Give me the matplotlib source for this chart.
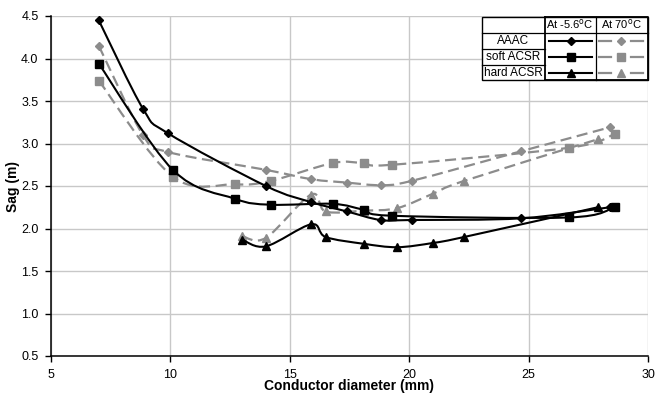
import numpy as np
import matplotlib
matplotlib.use("Agg")
from matplotlib import pyplot as plt
from matplotlib.path import Path
from matplotlib.patches import PathPatch, Rectangle
from matplotlib.lines import Line2D

plt.rcParams['font.family'] = ['Liberation Sans', 'DejaVu Sans']

# data
aaac_x = [7.0, 8.85, 9.9, 14.0, 15.9, 17.4, 18.8, 20.1, 24.7, 28.4]
aaac_cold = [4.45, 3.41, 3.12, 2.50, 2.31, 2.20, 2.10, 2.10, 2.12, 2.25]
aaac_hot = [4.15, 3.10, 2.90, 2.69, 2.58, 2.54, 2.51, 2.56, 2.91, 3.19]

soft_x = [7.0, 10.1, 12.7, 14.2, 16.8, 18.1, 19.3, 26.7, 28.6]
soft_cold = [3.94, 2.69, 2.35, 2.28, 2.29, 2.22, 2.15, 2.13, 2.25]
soft_hot = [3.74, 2.61, 2.52, 2.56, 2.77, 2.77, 2.75, 2.95, 3.11]

hard_x = [13.0, 14.0, 15.9, 16.5, 18.1, 19.5, 21.0, 22.3, 27.9]
hard_cold = [1.87, 1.79, 2.05, 1.90, 1.82, 1.78, 1.83, 1.90, 2.25]
hard_hot = [1.91, 1.89, 2.40, 2.20, 2.21, 2.24, 2.41, 2.56, 3.05]

names = ['AAAC', 'soft ACSR', 'hard ACSR']
markers = ['D', 's', '^']
msizes = [4.5, 6, 5.5]
temps = ['At -5.6$^{\\rm o}$C', 'At 70$^{\\rm o}$C']

BLACK = 'black'
GRAY = '#8c8c8c'
W, H = 656, 395


def smooth_path(x, y):
    # excel style smoothed line: catmull-rom through the points as bezier
    p = np.column_stack([x, y])
    verts = [p[0]]
    codes = [Path.MOVETO]
    n = len(p)
    for i in range(n - 1):
        p0 = p[i - 1] if i > 0 else p[i]
        p3 = p[i + 2] if i + 2 < n else p[i + 1]
        c1 = p[i] + (p[i + 1] - p0) / 6
        c2 = p[i + 1] - (p3 - p[i]) / 6
        verts += [c1, c2, p[i + 1]]
        codes += [Path.CURVE4] * 3
    return Path(verts, codes)


fig = plt.figure(figsize=(W / 100, H / 100), dpi=100)
ax = fig.add_axes([51 / W, 1 - 356 / H, 597 / W, 340 / H])

series = [(aaac_x, aaac_cold, aaac_hot), (soft_x, soft_cold, soft_hot),
          (hard_x, hard_cold, hard_hot)]

for k, (x, yc, yh) in enumerate(series):
    ax.add_patch(PathPatch(smooth_path(x, yh), fill=False, ec=GRAY, lw=1.6,
                           ls=(0, (5, 2.5)), zorder=3))
    ax.plot(x, yh, ls='none', marker=markers[k], ms=msizes[k], color=GRAY,
            mec=GRAY, zorder=4)
for k, (x, yc, yh) in enumerate(series):
    ax.add_patch(PathPatch(smooth_path(x, yc), fill=False, ec=BLACK, lw=1.5,
                           zorder=5))
    ax.plot(x, yc, ls='none', marker=markers[k], ms=msizes[k], color=BLACK,
            zorder=6)

ax.set_xlim(5, 30)
ax.set_ylim(0.5, 4.5)
ax.set_xticks(np.arange(5, 31, 5))
ax.set_yticks(np.arange(0.5, 4.51, 0.5))
ax.set_yticklabels(['%.1f' % v for v in np.arange(0.5, 4.51, 0.5)])
ax.grid(True, color='#c8c8c8', lw=1)
ax.set_axisbelow(True)
for s in ['top', 'right']:
    ax.spines[s].set_visible(False)
for s in ['left', 'bottom']:
    ax.spines[s].set_linewidth(1.1)
ax.tick_params(direction='out', length=4, width=1, labelsize=9, pad=5)
ax.set_xlabel('Conductor diameter (mm)', fontsize=10, fontweight='bold', labelpad=-1)
ax.set_ylabel('Sag (m)', fontsize=10, fontweight='bold', labelpad=1)

# legend drawn as a small table, like the original
def fx(px):
    return px / W


def fy(py):
    return 1 - py / H


cols = [481.7, 544.7, 595.7, 647.7]
rows = [16.7, 33.3, 49.3, 65.0, 80.0]
tf = fig.transFigure
fig.patches.append(Rectangle((fx(cols[0]), fy(rows[-1])), fx(cols[3] - cols[0]),
                             (rows[-1] - rows[0]) / H, transform=tf,
                             fc='white', ec='black', lw=1.0, zorder=10))


def hline(y, x0, x1, lw=0.9):
    fig.lines.append(Line2D([fx(x0), fx(x1)], [fy(y), fy(y)], transform=tf,
                            color='black', lw=lw, zorder=11))


def vline(x, y0, y1, lw=0.9):
    fig.lines.append(Line2D([fx(x), fx(x)], [fy(y0), fy(y1)], transform=tf,
                            color='black', lw=lw, zorder=11))


hline(rows[1], cols[0], cols[3])
hline(rows[2], cols[0], cols[1])
hline(rows[3], cols[0], cols[1])
vline(cols[1], rows[0], rows[-1], lw=1.3)
vline(cols[2], rows[0], rows[-1])
fig.lines.append(Line2D([fx(cols[1]), fx(cols[3]), fx(cols[3]), fx(cols[1])],
                        [fy(rows[0]), fy(rows[0]), fy(rows[-1]), fy(rows[-1])],
                        transform=tf, color='black', lw=1.3, zorder=11))

for j, t in enumerate(temps):
    fig.text(fx((cols[j + 1] + cols[j + 2]) / 2), fy((rows[0] + rows[1]) / 2 - 1), t,
             ha='center', va='center', fontsize=8, zorder=12)
for k, name in enumerate(names):
    yc = fy((rows[k + 1] + rows[k + 2]) / 2)
    fig.text(fx((cols[0] + cols[1]) / 2), yc, name, ha='center', va='center',
             fontsize=8.5, zorder=12)
    fig.lines.append(Line2D([fx(549), fx(592)], [yc, yc], transform=tf,
                            color=BLACK, lw=1.5, zorder=12))
    fig.lines.append(Line2D([fx(570.5)], [yc], transform=tf, ls='none',
                            marker=markers[k], ms=msizes[k], color=BLACK, zorder=13))
    for a, b in [(599, 611), (631, 643)]:
        fig.lines.append(Line2D([fx(a), fx(b)], [yc, yc], transform=tf,
                                color=GRAY, lw=1.6, zorder=12))
    fig.lines.append(Line2D([fx(621)], [yc], transform=tf, ls='none',
                            marker=markers[k], ms=msizes[k], color=GRAY, zorder=13))

fig.savefig('out.png', dpi=100)
